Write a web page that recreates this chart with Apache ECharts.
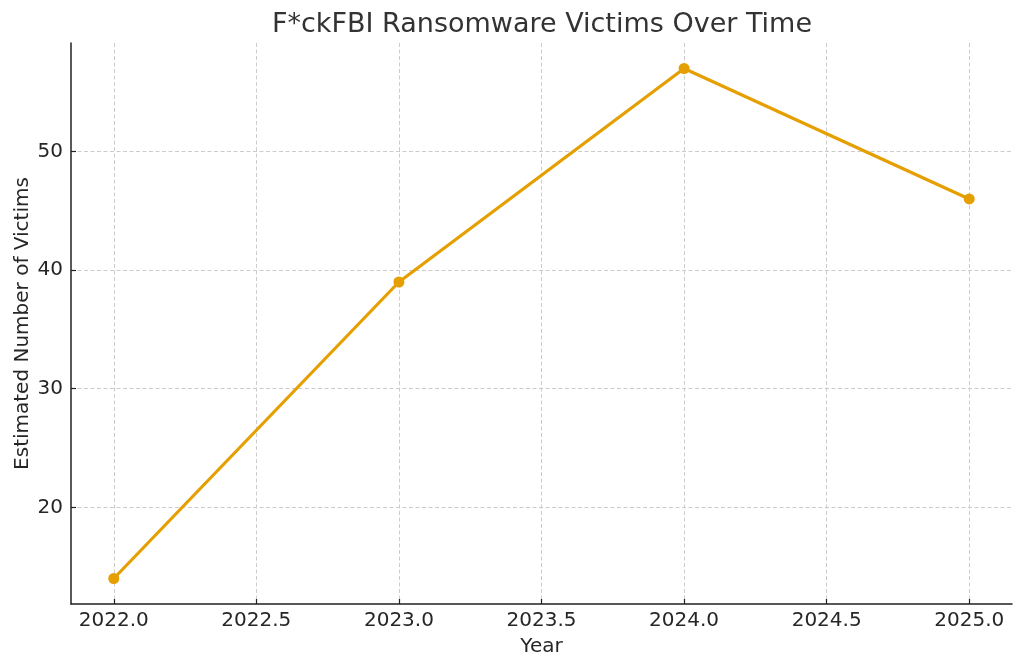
<!DOCTYPE html>
<html>
<head>
<meta charset="utf-8">
<script src="https://cdn.jsdelivr.net/npm/echarts@6/dist/echarts.min.js"></script>
<style>html,body{margin:0;padding:0;background:#fff;}#c{width:1024px;height:669px;}</style>
</head>
<body>
<div id="c"></div>
<script>
const years = [2022, 2023, 2024, 2025];
const victims = [14, 39, 57, 46];
const xTicks = [2022.0, 2022.5, 2023.0, 2023.5, 2024.0, 2024.5, 2025.0];
const yTicks = [20, 30, 40, 50];

const chart = echarts.init(document.getElementById('c'), null, {renderer: 'canvas'});
const font = 'DejaVu Sans';
chart.setOption({
  animation: false,
  backgroundColor: '#ffffff',
  title: {
    text: 'F*ckFBI Ransomware Victims Over Time',
    left: 537, top: 6, textAlign: 'center',
    textStyle: {fontFamily: font, fontSize: 27, fontWeight: 'normal', color: '#333333'}
  },
  grid: {left: 71, right: 12, top: 43, bottom: 65, containLabel: false, outerBoundsMode: 'none'},
  xAxis: {
    type: 'value', min: 2021.85, max: 2025.15,
    name: 'Year', nameLocation: 'middle', nameGap: 33, nameMoveOverlap: false,
    nameTextStyle: {fontFamily: font, fontSize: 20, color: '#262626'},
    axisLine: {show: true, onZero: false, lineStyle: {color: '#222', width: 1.5}},
    axisTick: {show: true, inside: true, length: 5, customValues: xTicks, lineStyle: {color: '#222', width: 1.2}},
    axisLabel: {customValues: xTicks, formatter: v => Number(v).toFixed(1), fontFamily: font, fontSize: 20, color: '#262626', margin: 7},
    splitLine: {show: true, lineStyle: {color: '#cccccc', type: [4, 2.5], width: 1}}
  },
  yAxis: {
    type: 'value', min: 11.85, max: 59.15,
    name: 'Estimated Number of Victims', nameLocation: 'middle', nameGap: 38, nameMoveOverlap: false,
    nameTextStyle: {fontFamily: font, fontSize: 20, color: '#262626'},
    axisLine: {show: true, onZero: false, lineStyle: {color: '#222', width: 1.5}},
    axisTick: {show: true, inside: true, length: 5, customValues: yTicks, lineStyle: {color: '#222', width: 1.2}},
    axisLabel: {customValues: yTicks, fontFamily: font, fontSize: 20, color: '#262626', margin: 8},
    splitLine: {show: true, lineStyle: {color: '#cccccc', type: [4, 2.5], width: 1}}
  },
  series: [{
    type: 'line',
    data: years.map((y, i) => [y, victims[i]]),
    symbol: 'circle', symbolSize: 11,
    lineStyle: {color: '#E69F00', width: 3.2},
    itemStyle: {color: '#E69F00'},
    z: 5
  }]
});
</script>
</body>
</html>
